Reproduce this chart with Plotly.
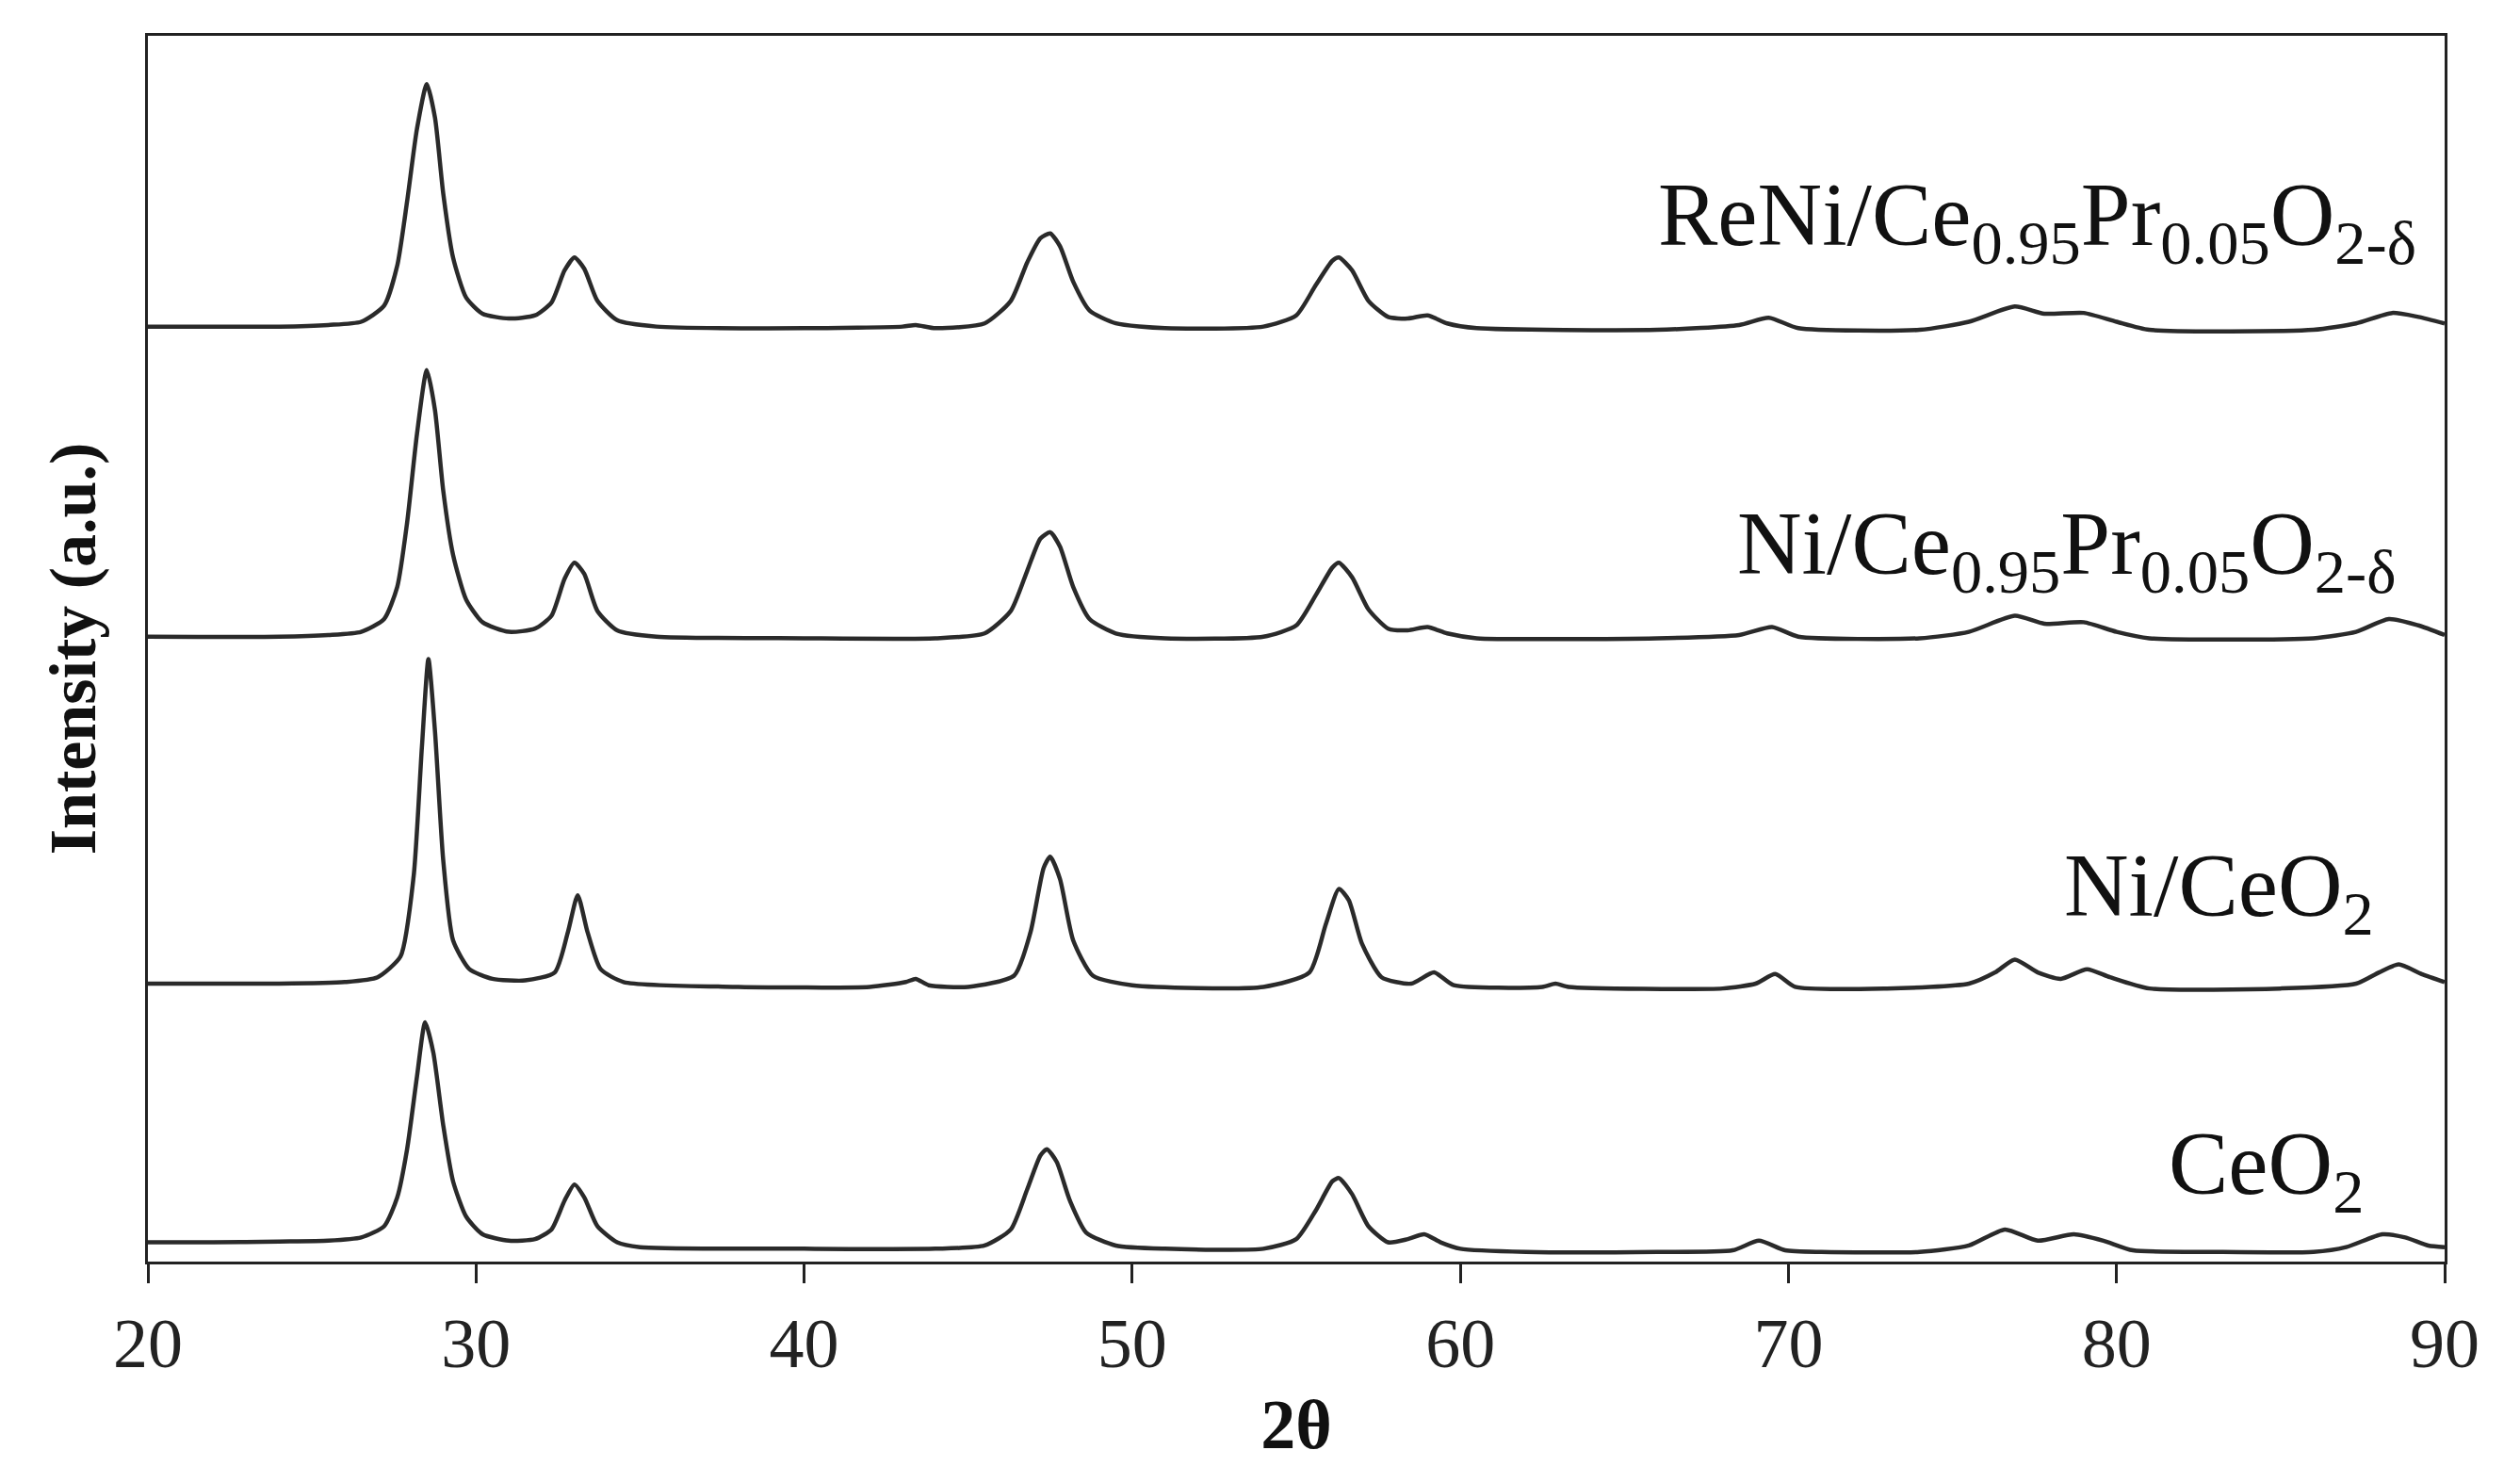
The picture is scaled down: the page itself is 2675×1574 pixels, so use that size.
import plotly.graph_objects as go

# 2-theta positions and intensities (a.u., offset stacked)
ceo2_x = [20, 22, 24, 25.5, 26.5, 27.2, 27.6, 27.9, 28.2, 28.45, 28.7, 29.0, 29.3, 29.7, 30.2, 31, 31.8, 32.3, 32.7, 33.0,
          33.3, 33.7, 34.3, 35, 40, 44, 45.5, 46.3, 46.8, 47.2, 47.4, 47.7, 48.1, 48.6, 49.5, 51, 54, 55, 55.6, 56.1,
          56.3, 56.7, 57.2, 57.8, 58.4, 58.9, 59.4, 60, 62, 66, 68.3, 69.1, 69.9, 71, 74, 75.5, 76.6, 77.6, 78.7, 79.6,
          80.5, 83, 86, 87, 88.1, 88.8, 89.5, 90]
ceo2_y = [12, 12, 12.5, 13, 15, 22, 40, 70, 115, 149, 130, 85, 50, 28, 17, 13, 14, 20, 38, 48,
          40, 22, 12, 9, 8, 8, 10, 20, 45, 66, 70, 62, 38, 18, 10, 8, 8, 14, 32, 50,
          52, 42, 22, 12, 14, 17, 12, 8, 6, 6, 7, 13, 7, 6, 6, 10, 20, 13, 17, 13,
          7, 6, 6, 9, 17, 15, 10, 9]

nice_x = [20, 24, 26, 27, 27.7, 28.1, 28.35, 28.55, 28.75, 29.0, 29.3, 29.8, 30.5, 31.5, 32.4, 32.8, 33.1, 33.4, 33.8, 34.5,
          38, 42, 43.1, 43.4, 43.8, 45, 46.4, 46.9, 47.3, 47.5, 47.8, 48.2, 48.8, 50, 54, 55.4, 55.9, 56.3, 56.6, 57.0,
          57.6, 58.5, 59.2, 59.8, 62.5, 62.9, 63.3, 68, 69.0, 69.6, 70.2, 73, 75.5, 76.3, 76.9, 77.6, 78.3, 79.1, 79.8, 81,
          85, 87.3, 88.0, 88.6, 89.3, 90]
nice_y = [173, 173, 174, 177, 190, 240, 320, 375, 330, 250, 200, 182, 176, 175, 180, 205, 228, 205, 182, 174,
          171, 171, 174, 176, 172, 171, 178, 205, 245, 252, 238, 200, 178, 172, 171, 180, 210, 232, 225, 198,
          177, 173, 180, 172, 171, 173, 171, 170, 173, 179, 171, 170, 173, 180, 188, 180, 176, 182, 177, 170,
          170, 173, 180, 185, 179, 174]

nicepr_x = [20, 24, 25.5, 26.5, 27.2, 27.6, 27.9, 28.2, 28.5, 28.75, 29.0, 29.3, 29.7, 30.2, 31, 31.8, 32.3, 32.7, 33.0, 33.3,
            33.7, 34.3, 35.5, 40, 44, 45.5, 46.3, 46.8, 47.2, 47.5, 47.8, 48.2, 48.7, 49.5, 51, 54, 55, 55.6, 56.1, 56.3,
            56.7, 57.2, 57.8, 58.4, 59.0, 59.6, 60.5, 66, 68.5, 69.5, 70.3, 74, 75.5, 76.9, 77.8, 79.0, 80.0, 81, 86, 87.3,
            88.3, 89.2, 90]
nicepr_y = [389, 389, 390, 392, 400, 420, 460, 515, 555, 530, 480, 440, 412, 398, 392, 394, 402, 425, 435, 428,
            405, 393, 389, 388, 388, 391, 405, 430, 450, 454, 445, 420, 400, 391, 388, 389, 396, 415, 432, 435,
            426, 406, 394, 393, 395, 391, 388, 388, 390, 395, 389, 388, 392, 402, 397, 398, 392, 388, 388, 392,
            400, 396, 390]

reni_x = [20, 24, 25.5, 26.5, 27.2, 27.6, 27.9, 28.2, 28.5, 28.75, 29.0, 29.3, 29.7, 30.2, 31, 31.8, 32.3, 32.7, 33.0, 33.3,
          33.7, 34.3, 35.5, 40, 43, 43.4, 44, 45.5, 46.3, 46.8, 47.2, 47.5, 47.8, 48.2, 48.7, 49.5, 51, 54, 55, 55.6,
          56.1, 56.3, 56.7, 57.2, 57.8, 58.4, 59.0, 59.6, 60.5, 66, 68.5, 69.4, 70.3, 74, 75.5, 76.9, 77.8, 79.0, 80.0, 81,
          86, 87.3, 88.4, 89.2, 90]
reni_y = [582, 582, 583, 585, 595, 620, 660, 705, 733, 712, 665, 625, 600, 590, 587, 589, 597, 617, 625, 618,
          598, 586, 582, 581, 582, 583, 581, 584, 598, 622, 637, 640, 632, 610, 592, 584, 581, 582, 589, 608,
          623, 625, 617, 598, 588, 587, 589, 584, 581, 580, 583, 587.5, 581, 580, 585, 594.5, 590, 590.5, 585, 580,
          580, 584, 590.5, 588, 584]

labels = ["ReNi/Ce<sub>0.95</sub>Pr<sub>0.05</sub>O<sub>2-δ</sub>",
          "Ni/Ce<sub>0.95</sub>Pr<sub>0.05</sub>O<sub>2-δ</sub>",
          "Ni/CeO<sub>2</sub>",
          "CeO<sub>2</sub>"]
label_x = [89.2, 88.6, 87.9, 87.6]
label_y = [648, 443, 230, 57]

x_ticks = [20, 30, 40, 50, 60, 70, 80, 90]

FONT = "Liberation Serif, Times New Roman, serif"

fig = go.Figure()
for xs, ys in [(ceo2_x, ceo2_y), (nice_x, nice_y), (nicepr_x, nicepr_y), (reni_x, reni_y)]:
    fig.add_trace(go.Scatter(x=xs, y=ys, mode="lines",
                             line=dict(color="#2a2a2a", width=4.5, shape="spline", smoothing=0.6),
                             showlegend=False, hoverinfo="skip"))

for t, lx, ly in zip(labels, label_x, label_y):
    fig.add_annotation(x=lx, y=ly, xref="x", yref="y", text=t, showarrow=False,
                       xanchor="right", yanchor="middle",
                       font=dict(family=FONT, size=95, color="#111111"))

fig.update_layout(
    width=2675, height=1574,
    margin=dict(l=149, r=88, t=30, b=243, autoexpand=False),
    paper_bgcolor="white", plot_bgcolor="white",
    font=dict(family=FONT, color="#111111"),
)
fig.update_xaxes(range=[20, 90], tickvals=x_ticks, ticktext=[str(v) for v in x_ticks],
                 ticks="outside", ticklen=20, tickwidth=3, tickcolor="#222222",
                 showline=True, linewidth=3, linecolor="#222222", mirror=True,
                 showgrid=False, zeroline=False, automargin=False,
                 tickfont=dict(family=FONT, size=74, color="#222222"),
                 title=dict(text="<b>2θ</b>", font=dict(family=FONT, size=74, color="#111111"), standoff=20))
fig.update_yaxes(range=[0, 763], showticklabels=False, ticks="",
                 showline=True, linewidth=3, linecolor="#222222", mirror=True,
                 showgrid=False, zeroline=False, automargin=False,
                 title=dict(text="<b>Intensity (a.u.)</b>", font=dict(family=FONT, size=70, color="#111111"), standoff=30))

fig.write_html("out.html")
